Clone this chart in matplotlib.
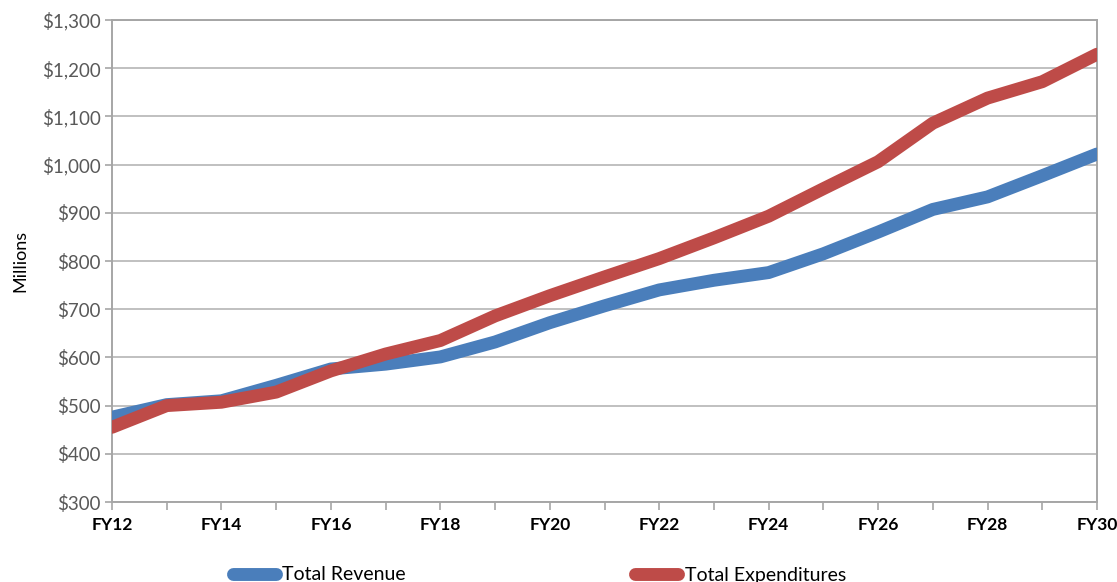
import matplotlib
matplotlib.use("Agg")
import matplotlib.pyplot as plt

years = ["FY12", "FY13", "FY14", "FY15", "FY16", "FY17", "FY18", "FY19", "FY20", "FY21",
         "FY22", "FY23", "FY24", "FY25", "FY26", "FY27", "FY28", "FY29", "FY30"]
total_revenue = [476, 502, 510, 542, 576, 586, 601, 632, 672, 707,
                 740, 760, 776, 815, 860, 907, 933, 977, 1022]
total_expenditures = [455, 500, 507, 528, 572, 607, 635, 686, 728, 767,
                      805, 848, 893, 950, 1006, 1086, 1138, 1172, 1229]
y_ticks = [300, 400, 500, 600, 700, 800, 900, 1000, 1100, 1200, 1300]

plt.rcParams["font.family"] = ["Lato", "DejaVu Sans"]

fig = plt.figure(figsize=(11.17, 5.82), dpi=100)
ax = fig.add_axes([112 / 1117, 1 - 502 / 582, (1097 - 112) / 1117, (502 - 20) / 582])

x = list(range(len(years)))
blue = "#4A7EBB"
red = "#BE4B48"
ax.plot(x, total_revenue, color=blue, lw=9.3, solid_capstyle="round",
        solid_joinstyle="round", label="Total Revenue", zorder=3)
ax.plot(x, total_expenditures, color=red, lw=9.3, solid_capstyle="round",
        solid_joinstyle="round", label="Total Expenditures", zorder=4)

ax.set_xlim(0, len(years) - 1)
ax.set_ylim(300, 1300)
ax.set_yticks(y_ticks)
ax.set_yticklabels([f"${v:,}" for v in y_ticks], color="#595959", fontsize=13.5)
ax.set_xticks(x)
ax.set_xticklabels([y if i % 2 == 0 else "" for i, y in enumerate(years)],
                   fontweight="bold", fontsize=12.5, color="black")
ax.tick_params(axis="x", length=6, width=1.2, color="#A6A6A6", pad=5)
ax.tick_params(axis="y", length=5, width=1.2, color="#A6A6A6", pad=3)

ax.grid(axis="y", color="#C0C0C0", lw=1.4)
ax.set_axisbelow(True)
for s in ax.spines.values():
    s.set_color("#A6A6A6")
    s.set_linewidth(1.4)

ax.set_ylabel("Millions", fontsize=13)
ax.yaxis.set_label_coords(-0.085, 0.5)

fig.legend(loc="center", bbox_to_anchor=(0.483, 1 - 575 / 582), ncol=2, frameon=False,
           fontsize=14, handlelength=2.2, handletextpad=0.35, columnspacing=11.8)

fig.savefig("out.png", dpi=100)
